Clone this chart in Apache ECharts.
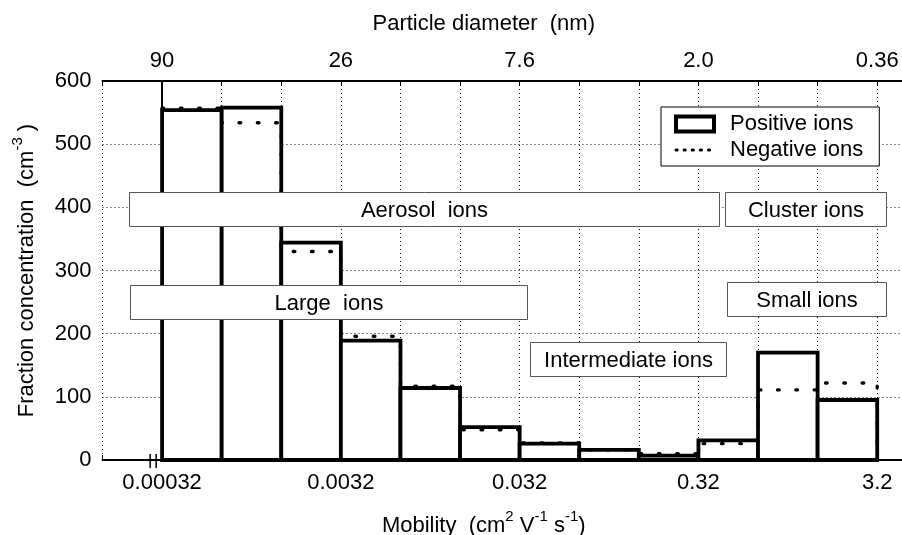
<!DOCTYPE html>
<html>
<head>
<meta charset="utf-8">
<script src="https://cdn.jsdelivr.net/npm/echarts@6/dist/echarts.min.js"></script>
<style>
    html, body { margin: 0; padding: 0; background: #fff; }
    #chart { width: 902px; height: 535px; }
</style>
</head>
<body>
<div id="chart"></div>
<script>
// bin edges are numbered 0..12, three bins per decade of mobility
var mobilityLabels = ['0.00032', '0.0032', '0.032', '0.32', '3.2']
var diameterLabels = ['90', '26', '7.6', '2.0', '0.36']
var positiveIons = [554, 558, 344, 189, 114, 52, 26, 16, 7, 31, 170, 95]
var negativeIons = [557, 534, 330, 196, 117, 48, 27, 16, 10, 26, 111, 122]

var FONT = 'Liberation Sans, Arial, sans-serif'
var chart = echarts.init(document.getElementById('chart'))

// step outline for negative ions, ends back at 0 on the last edge
var negativeSteps = []
negativeIons.forEach(function (v, i) {
    negativeSteps.push([i, v])
    negativeSteps.push([i + 1, v])
})
negativeSteps.push([negativeIons.length, 0])

function edgeLabel(list) {
    return function (v) {
        if (v >= 0 && v % 3 === 0 && v / 3 < list.length) return list[v / 3]
        return ''
    }
}

function labelBox(text, x, y, w, h) {
    return {
        type: 'group',
        x: x, y: y,
        children: [
            { type: 'rect', z: 100, shape: { x: 0, y: 0, width: w, height: h },
              style: { fill: '#fff', stroke: '#555', lineWidth: 1 } },
            { type: 'text', z: 101, x: w / 2, y: h / 2 + 1,
              style: { text: text, fill: '#000', font: '22px ' + FONT, align: 'center', verticalAlign: 'middle' } }
        ]
    }
}

var supStyle = { fontSize: 15, fontFamily: FONT, color: '#000', verticalAlign: 'top', lineHeight: 14 }

var axisCommon = {
    type: 'value',
    min: -1,
    max: 12.5,
    interval: 1,
    axisLine: { show: true, lineStyle: { color: '#000', width: 2 } },
    axisTick: { show: true, inside: true, length: 5, lineStyle: { color: '#000', width: 1 } },
    nameLocation: 'middle'
}

var option = {
    animation: false,
    backgroundColor: '#fff',
    textStyle: { fontFamily: FONT },
    grid: { left: 102.5, right: -5, top: 81, bottom: 75, outerBoundsMode: 'none', containLabel: false },
    legend: {
        left: 661,
        top: 107,
        orient: 'vertical',
        itemWidth: 38,
        itemHeight: 15,
        itemGap: 4,
        padding: [6, 16, 5, 13],
        borderColor: '#000',
        borderWidth: 1,
        backgroundColor: '#fff',
        z: 50,
        textStyle: { color: '#000', fontSize: 22, fontFamily: FONT, lineHeight: 21, padding: [0, 0, 0, 11] },
        data: [
            { name: 'Positive ions', icon: 'rect',
              itemStyle: { color: '#fff', borderColor: '#000', borderWidth: 4 } },
            { name: 'Negative ions',
              itemStyle: { color: 'rgba(0,0,0,0)', borderWidth: 0, opacity: 0 },
              lineStyle: { color: '#000', width: 3, type: [1.2, 6.9], cap: 'round', opacity: 1 } }
        ]
    },
    xAxis: [
        Object.assign({}, axisCommon, {
            position: 'bottom',
            name: 'Mobility  (cm{sup|2} V{sup|-1} s{sup|-1})',
            nameGap: 49,
            nameTextStyle: {
                color: '#000', fontSize: 22, fontFamily: FONT, lineHeight: 34, padding: [0, 42, 0, 0],
                rich: { sup: supStyle }
            },
            axisLabel: { color: '#000', fontSize: 22, fontFamily: FONT, margin: 12, formatter: edgeLabel(mobilityLabels) },
            splitLine: { show: true, lineStyle: { color: '#111', width: 1, type: [1, 3] } }
        }),
        Object.assign({}, axisCommon, {
            position: 'top',
            name: 'Particle diameter  (nm)',
            nameGap: 46,
            nameTextStyle: { color: '#000', fontSize: 22, fontFamily: FONT, padding: [0, 42, 0, 0] },
            axisLabel: { color: '#000', fontSize: 22, fontFamily: FONT, margin: 9, formatter: edgeLabel(diameterLabels) },
            splitLine: { show: false }
        })
    ],
    yAxis: {
        type: 'value',
        min: 0,
        max: 600,
        interval: 100,
        name: 'Fraction concentration  (cm{sup|-3} )',
        nameLocation: 'middle',
        nameGap: 58,
        nameTextStyle: {
            color: '#000', fontSize: 22, fontFamily: FONT, lineHeight: 34,
            rich: { sup: supStyle }
        },
        axisLine: { show: true, lineStyle: { color: '#000', width: 2 } },
        axisTick: { show: true, inside: true, length: 5, lineStyle: { color: '#000' } },
        axisLabel: { color: '#000', fontSize: 22, fontFamily: FONT, margin: 11 },
        splitLine: { show: true, lineStyle: { color: '#111', width: 1, type: [1, 3] } }
    },
    series: [
        {
            name: 'Positive ions',
            type: 'custom',
            encode: { x: 0, y: 1 },
            itemStyle: { color: '#fff', borderColor: '#000' },
            data: positiveIons.map(function (v, i) { return [i, v] }),
            renderItem: function (params, api) {
                var i = api.value(0)
                var p0 = api.coord([i, 0])
                var p1 = api.coord([i + 1, api.value(1)])
                return {
                    type: 'rect',
                    shape: { x: p0[0], y: p1[1], width: p1[0] - p0[0], height: p0[1] - p1[1] },
                    style: { fill: '#fff', stroke: '#000', lineWidth: 3.8 }
                }
            }
        },
        {
            name: 'Negative ions',
            type: 'line',
            data: negativeSteps,
            showSymbol: false,
            symbol: 'none',
            itemStyle: { color: '#000' },
            lineStyle: { color: '#000', width: 3.4, type: [1.6, 16.7], cap: 'round' },
            z: 3
        },
        {
            // axis break mark left of the first bin
            type: 'custom',
            data: [[-0.15, 0]],
            encode: { x: 0, y: 1 },
            z: 4,
            renderItem: function (params, api) {
                var p = api.coord([api.value(0), api.value(1)])
                return {
                    type: 'group',
                    children: [-3, 3].map(function (dx) {
                        return {
                            type: 'line',
                            shape: { x1: p[0] + dx, y1: p[1] - 6, x2: p[0] + dx, y2: p[1] + 8 },
                            style: { stroke: '#000', lineWidth: 1.5 }
                        }
                    })
                }
            }
        }
    ],
    graphic: [
        labelBox('Aerosol  ions', 129.5, 192.5, 590, 34),
        labelBox('Cluster ions', 725.5, 192.5, 161, 34),
        labelBox('Large  ions', 130.5, 285.5, 397, 34),
        labelBox('Small ions', 727.5, 282.5, 159, 34),
        labelBox('Intermediate ions', 530.5, 342.5, 196, 34)
    ]
}

chart.setOption(option)
</script>
</body>
</html>
